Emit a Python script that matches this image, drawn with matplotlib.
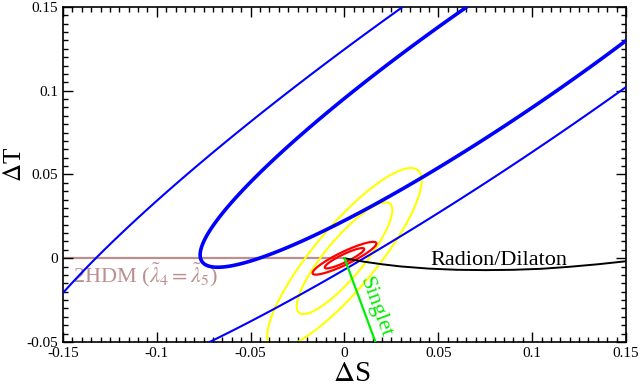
import numpy as np
import matplotlib
matplotlib.use('Agg')
import matplotlib.pyplot as plt
from matplotlib.ticker import MultipleLocator, FuncFormatter

plt.rcParams['font.family'] = ['Liberation Serif', 'DejaVu Serif']
plt.rcParams['mathtext.fontset'] = 'stix'
plt.rcParams['axes.unicode_minus'] = False

# S,T fits: centre, sigmas and correlation (blue, yellow, red)
fit_colors = ['#0000ff', '#ffff00', '#ff0000']
fit_center_S = [0.089, 0.0, 0.0]
fit_center_T = [0.1249, 0.0, 0.0]
fit_sigma_S = [0.1094, 0.0168, 0.00695]
fit_sigma_T = [0.0859, 0.022, 0.004]
fit_rho = [0.9434, 0.86, 0.9]
cl_levels = [2.30, 5.99]  # 68% / 95% CL, 2 dof

# model lines
hdm_S = [-0.15, 0.0]
hdm_T = [0.0, 0.0]
radion_S = [0.0, 0.01, 0.02, 0.03, 0.045, 0.06, 0.075, 0.09, 0.105, 0.12, 0.135, 0.15]
radion_T = [0.0, -0.002, -0.0036, -0.0049, -0.0062, -0.0069, -0.0071, -0.0069, -0.0063, -0.0051, -0.0036, -0.0018]
singlet_S = [0.0, 0.0165]
singlet_T = [0.0, -0.05]

fig = plt.figure(figsize=(6.4, 3.87), dpi=100)
ax = fig.add_axes([0.0984, 0.1163, 0.8797, 0.8657])

ax.plot(hdm_S, hdm_T, color='#bc8f8f', lw=1.6, zorder=1)

S, T = np.meshgrid(np.linspace(-0.16, 0.16, 900), np.linspace(-0.06, 0.16, 700))
widths = [[2.6, 1.5], [1.5, 1.5], [1.6, 1.6]]
zord = [4, 2, 3]
for i in range(3):
    dS = (S - fit_center_S[i]) / fit_sigma_S[i]
    dT = (T - fit_center_T[i]) / fit_sigma_T[i]
    r = fit_rho[i]
    chi2 = (dS**2 - 2 * r * dS * dT + dT**2) / (1 - r**2)
    cs = ax.contour(S, T, chi2, levels=cl_levels, colors=fit_colors[i],
                    linewidths=widths[i], zorder=zord[i])

ax.plot(radion_S, radion_T, color='black', lw=1.4, zorder=5)
ax.plot(singlet_S, singlet_T, color='#00ee00', lw=1.6, zorder=6)

ax.text(-0.1445, -0.0145, r'2HDM ($\tilde{\lambda}_4 = \tilde{\lambda}_5$)',
        color='#bc8f8f', fontsize=16, ha='left', va='baseline')
ax.text(0.0457, -0.0042, 'Radion/Dilaton', color='black', fontsize=16,
        ha='left', va='baseline')
ax.text(0.0165, -0.0292, 'Singlet', color='#00ee00', fontsize=16,
        rotation=-70, rotation_mode='anchor', ha='center', va='center')

ax.set_xlim(-0.15, 0.15)
ax.set_ylim(-0.05, 0.15)
ax.xaxis.set_major_locator(MultipleLocator(0.05))
ax.xaxis.set_minor_locator(MultipleLocator(0.005))
ax.yaxis.set_major_locator(MultipleLocator(0.05))
ax.yaxis.set_minor_locator(MultipleLocator(0.005))
fmt = FuncFormatter(lambda v, p: '%g' % (round(v, 6) + 0.0))
ax.xaxis.set_major_formatter(fmt)
ax.yaxis.set_major_formatter(fmt)
ax.tick_params(which='both', direction='in', top=True, right=True, labelsize=11, width=1.0)
ax.tick_params(which='major', length=7)
ax.tick_params(which='minor', length=3.5)
for sp in ax.spines.values():
    sp.set_linewidth(1.2)

ax.set_xlabel(r'$\Delta$S', fontsize=21)
ax.xaxis.set_label_coords(0.513, -0.056)
fig.text(0.023, 0.574, r'$\Delta$T', fontsize=18, rotation=90,
         ha='center', va='center')

fig.savefig('out.png', dpi=100)
